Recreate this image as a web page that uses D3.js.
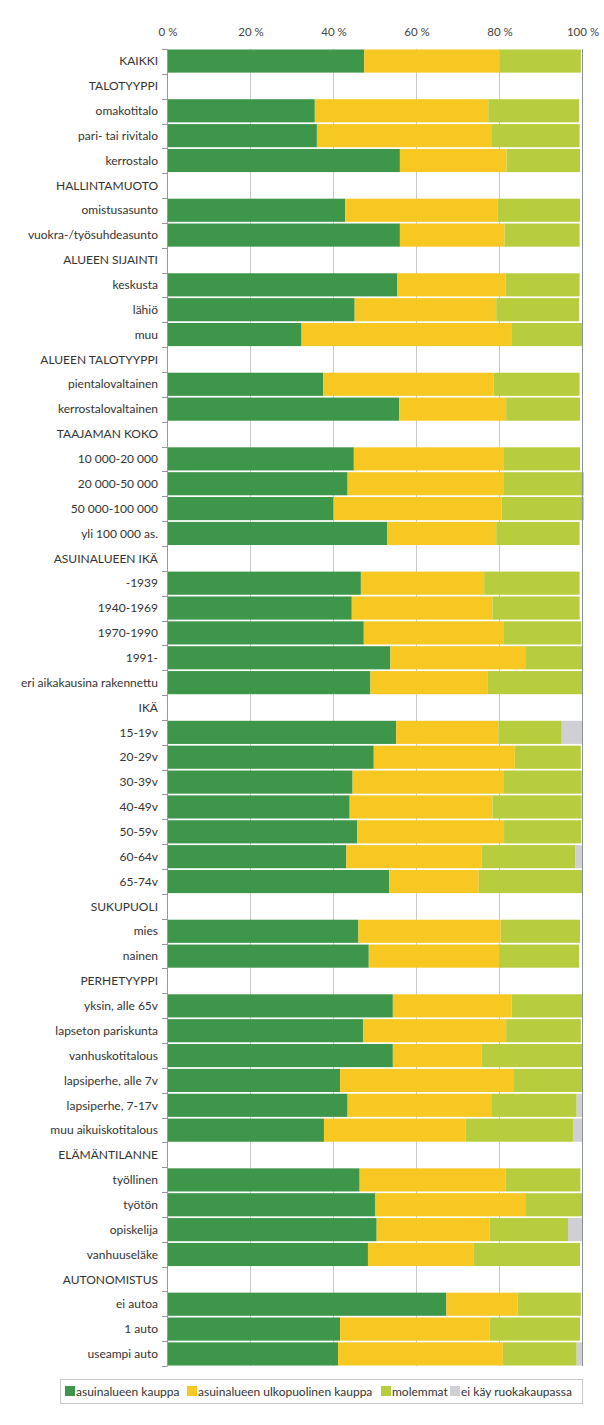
<!DOCTYPE html>
<html><head><meta charset="utf-8">
<script src="https://cdn.jsdelivr.net/npm/d3@7"></script>
<style>
body{margin:0;background:#fff;}
svg text{font-family:Lato,"Open Sans",sans-serif;}
</style></head>
<body><div id="chart"></div>
<script>
const categories = ["KAIKKI","TALOTYYPPI","omakotitalo","pari- tai rivitalo","kerrostalo","HALLINTAMUOTO","omistusasunto","vuokra-/työsuhdeasunto","ALUEEN SIJAINTI","keskusta","lähiö","muu","ALUEEN TALOTYYPPI","pientalovaltainen","kerrostalovaltainen","TAAJAMAN KOKO","10 000-20 000","20 000-50 000","50 000-100 000","yli 100 000 as.","ASUINALUEEN IKÄ","-1939","1940-1969","1970-1990","1991-","eri aikakausina rakennettu","IKÄ","15-19v","20-29v","30-39v","40-49v","50-59v","60-64v","65-74v","SUKUPUOLI","mies","nainen","PERHETYYPPI","yksin, alle 65v","lapseton pariskunta","vanhuskotitalous","lapsiperhe, alle 7v","lapsiperhe, 7-17v","muu aikuiskotitalous","ELÄMÄNTILANNE","työllinen","työtön","opiskelija","vanhuuseläke","AUTONOMISTUS","ei autoa","1 auto","useampi auto"];

// segment values in percent (null = heading row)
const asuinalueenKauppa = [47.4,null,35.5,36.0,56.0,null,42.8,56.0,null,55.4,45.1,32.3,null,37.5,55.8,null,44.9,43.4,40.0,52.9,null,46.6,44.4,47.3,53.7,48.9,null,55.1,49.7,44.6,43.9,45.7,43.1,53.4,null,46.0,48.5,null,54.3,47.1,54.3,41.6,43.4,37.7,null,46.3,50.0,50.4,48.3,null,67.2,41.6,41.1];
const ulkopuolinenKauppa = [32.6,null,41.8,42.0,25.7,null,36.7,25.2,null,26.1,34.1,50.7,null,41.1,25.8,null,36.0,37.5,40.5,26.3,null,29.7,33.9,33.6,32.5,28.3,null,24.6,34.0,36.3,34.4,35.4,32.6,21.6,null,34.3,31.4,null,28.6,34.5,21.4,41.9,34.6,34.1,null,35.2,36.2,27.2,25.4,null,17.2,36.0,39.7];
const molemmat = [19.6,null,21.9,21.3,17.7,null,19.9,18.1,null,17.8,20.0,17.0,null,20.7,17.8,null,18.5,19.4,19.8,20.1,null,23.0,21.0,18.8,13.8,22.8,null,15.3,15.9,18.9,21.5,18.6,22.6,25.0,null,19.1,19.3,null,17.1,18.0,24.3,16.5,20.6,25.9,null,18.0,13.8,18.9,25.7,null,15.2,21.8,17.8];
const eiKay = [0,null,0,0,0,null,0,0,null,0,0,0,null,0,0,null,0,0,0,0,null,0,0,0,0,0,null,5.0,0,0,0,0,1.7,0,null,0,0,null,0,0,0,0,1.4,2.3,null,0,0,3.5,0,null,0,0,1.4];

const seriesNames = ["asuinalueen kauppa","asuinalueen ulkopuolinen kauppa","molemmat","ei käy ruokakaupassa"];
const seriesValues = [asuinalueenKauppa, ulkopuolinenKauppa, molemmat, eiKay];
const colors = ["#3d9649","#f8c822","#b8cd3e","#d0d0d4"];
const tickValues = [0,20,40,60,80,100];
const tickLabels = ["0 %","20 %","40 %","60 %","80 %","100 %"];

const W = 604, H = 1425;
const svg = d3.select("#chart").append("svg").attr("width", W).attr("height", H);

const x = d3.scaleLinear().domain([0,100]).range([167.5, 582.5]);
const y = d3.scaleBand().domain(d3.range(categories.length)).range([49, 1366]).paddingInner(0.07).paddingOuter(0.02);
const step = y.step();

// gridlines
svg.append("g").selectAll("line").data(tickValues.slice(1,5)).join("line")
  .attr("x1", d => x(d)).attr("x2", d => x(d))
  .attr("y1", 49).attr("y2", 1366)
  .attr("stroke", "#c8c8c8").attr("stroke-width", 1);

// bars
const table = categories.map((c,i) => ({i, vals: seriesValues.map(s => s[i])}));
table.forEach(row => {
  if (row.vals[0] === null) return;
  let acc = 0;
  row.vals.forEach((v, k) => {
    if (!v) return;
    svg.append("rect")
      .attr("x", x(acc)).attr("width", x(acc + v) - x(acc))
      .attr("y", y(row.i)).attr("height", y.bandwidth())
      .attr("fill", colors[k]);
    acc += v;
  });
});

// left axis line with ticks at band boundaries
svg.append("line").attr("x1", 167.5).attr("x2", 167.5).attr("y1", 49).attr("y2", 1366)
  .attr("stroke", "#999").attr("stroke-width", 1);
svg.append("g").selectAll("line").data(d3.range(categories.length + 1)).join("line")
  .attr("x1", 162).attr("x2", 167.5)
  .attr("y1", d => Math.round(49 + d * (1317 / categories.length)) + 0.5)
  .attr("y2", d => Math.round(49 + d * (1317 / categories.length)) + 0.5)
  .attr("stroke", "#999");
// right border at 100 %
svg.append("line").attr("x1", 582.5).attr("x2", 582.5).attr("y1", 49).attr("y2", 1366)
  .attr("stroke", "#8a90a0").attr("stroke-width", 1);

// top axis labels
const xAxis = d3.axisTop(x).tickValues(tickValues).tickFormat((d,i) => tickLabels[i]).tickSize(0).tickPadding(0);
const gx = svg.append("g").attr("transform", "translate(0,36)").call(xAxis);
gx.select(".domain").remove();
gx.selectAll("text").attr("font-size", 11.5).attr("fill", "#444").attr("font-family", "Lato, sans-serif");

// category labels
svg.append("g").selectAll("text").data(categories).join("text")
  .attr("x", 158).attr("y", (d,i) => y(i) + y.bandwidth()/2)
  .attr("dy", "0.35em").attr("text-anchor", "end")
  .attr("font-size", 12).attr("fill", "#333")
  .text(d => d);

// legend
const lg = svg.append("g");
lg.append("rect").attr("x", 60.5).attr("y", 1379.5).attr("width", 522).attr("height", 24)
  .attr("fill", "#fff").attr("stroke", "#c8c8c8");
const legendX = [65, 187, 381, 450];
seriesNames.forEach((n, k) => {
  lg.append("rect").attr("x", legendX[k]).attr("y", 1386).attr("width", 10).attr("height", 10).attr("fill", colors[k]);
  lg.append("text").attr("x", legendX[k] + 11).attr("y", 1391.5).attr("dy", "0.35em")
    .attr("font-size", 12).attr("fill", "#333").text(n);
});
</script></body></html>
